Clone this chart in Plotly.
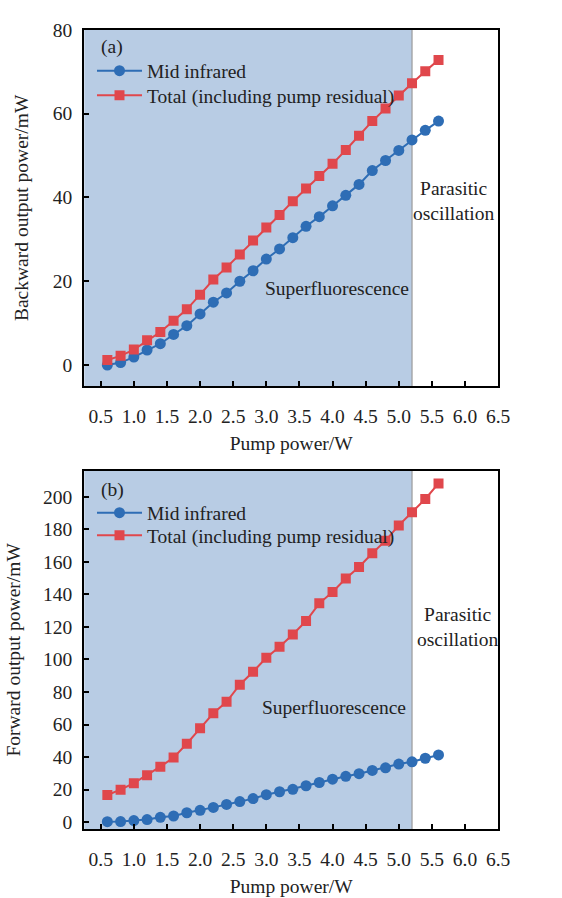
import plotly.graph_objects as go

pump = [0.6, 0.8, 1.0, 1.2, 1.4, 1.6, 1.8, 2.0, 2.2, 2.4, 2.6, 2.8, 3.0,
        3.2, 3.4, 3.6, 3.8, 4.0, 4.2, 4.4, 4.6, 4.8, 5.0, 5.2, 5.4, 5.6]

back_mir = [0.0, 0.6, 1.9, 3.6, 5.1, 7.3, 9.4, 12.2, 15.0, 17.2, 20.0, 22.5, 25.3,
            27.7, 30.4, 33.1, 35.4, 38.0, 40.5, 43.1, 46.4, 48.8, 51.2, 53.7, 56.0, 58.2]
back_total = [1.2, 2.2, 3.7, 5.9, 7.9, 10.6, 13.3, 16.8, 20.4, 23.3, 26.4, 29.7, 32.8,
              35.8, 39.1, 42.1, 45.1, 48.0, 51.3, 54.7, 58.2, 61.2, 64.3, 67.2, 70.1, 72.8]

fwd_mir = [0.3, 0.4, 1.0, 1.6, 3.0, 3.8, 5.8, 7.3, 9.1, 10.9, 12.7, 14.5, 16.9,
           18.7, 20.2, 22.4, 24.4, 26.4, 28.2, 29.8, 31.8, 33.4, 35.7, 37.1, 39.3, 41.3]
fwd_total = [16.7, 20.0, 24.0, 28.8, 34.1, 39.7, 48.2, 57.7, 66.9, 74.0, 84.5, 92.5, 101.0,
             107.8, 115.3, 123.6, 134.5, 141.5, 149.8, 156.8, 165.3, 173.0, 182.4, 190.5, 198.6, 208.2]

x_ticks = [0.5, 1.0, 1.5, 2.0, 2.5, 3.0, 3.5, 4.0, 4.5, 5.0, 5.5, 6.0, 6.5]
x_tick_labels = ["0.5", "1.0", "1.5", "2.0", "2.5", "3.0", "3.5", "4.0", "4.5", "5.0", "5.5", "6.0", "6.5"]
threshold = 5.2

BLUE = "#2e6db5"
RED = "#e0474c"
SHADE = "#b8cce4"
FONT = "Liberation Serif"
FS = 19.5
TXT = "#222"

fig = go.Figure()

# top panel
fig.add_trace(go.Scatter(x=pump, y=back_mir, name="Mid infrared", mode="lines+markers",
                         line=dict(color=BLUE, width=2), marker=dict(symbol="circle", size=11, color=BLUE),
                         xaxis="x", yaxis="y", legend="legend"))
fig.add_trace(go.Scatter(x=pump, y=back_total, name="Total (including pump residual)", mode="lines+markers",
                         line=dict(color=RED, width=2), marker=dict(symbol="square", size=10, color=RED),
                         xaxis="x", yaxis="y", legend="legend2"))
# bottom panel
fig.add_trace(go.Scatter(x=pump, y=fwd_mir, name="Mid infrared", mode="lines+markers",
                         line=dict(color=BLUE, width=2), marker=dict(symbol="circle", size=11, color=BLUE),
                         xaxis="x2", yaxis="y2", legend="legend3"))
fig.add_trace(go.Scatter(x=pump, y=fwd_total, name="Total (including pump residual)", mode="lines+markers",
                         line=dict(color=RED, width=2), marker=dict(symbol="square", size=10, color=RED),
                         xaxis="x2", yaxis="y2", legend="legend4"))

W, H = 562, 898
xdom = [86 / W, 509 / W]
ydom_top = [1 - 382 / H, 1 - 20 / H]
ydom_bot = [1 - 832 / H, 1 - 468 / H]

axis_common = dict(showline=True, mirror=True, linecolor="black", linewidth=2,
                   ticks="inside", ticklen=5, tickwidth=1.5, tickcolor="black",
                   showgrid=False, zeroline=False,
                   tickfont=dict(family=FONT, size=FS, color=TXT))

xaxis_common = dict(axis_common, range=[0.25, 6.5], tickvals=x_ticks, ticktext=x_tick_labels,
                    ticklabelstandoff=12,
                    title=dict(text="Pump power/W", font=dict(family=FONT, size=FS, color=TXT), standoff=10))


def leg(ypix):
    return dict(x=94 / W, y=1 - ypix / H, xanchor="left", yanchor="middle", bgcolor="rgba(0,0,0,0)",
                font=dict(family=FONT, size=FS, color=TXT), itemwidth=45)


fig.update_layout(
    width=W, height=H, autosize=False,
    margin=dict(l=0, r=0, t=0, b=0),
    paper_bgcolor="white", plot_bgcolor="white",
    font=dict(family=FONT, size=FS, color=TXT),
    xaxis=dict(xaxis_common, domain=xdom, anchor="y"),
    yaxis=dict(axis_common, domain=ydom_top, anchor="x", range=[-5, 80], tickvals=[0, 20, 40, 60, 80],
               ticklabelstandoff=6,
               title=dict(text="Backward output power/mW", font=dict(family=FONT, size=FS, color=TXT), standoff=19)),
    xaxis2=dict(xaxis_common, domain=xdom, anchor="y2"),
    yaxis2=dict(axis_common, domain=ydom_bot, anchor="x2", range=[-4.2, 216],
                tickvals=[0, 20, 40, 60, 80, 100, 120, 140, 160, 180, 200],
                ticklabelstandoff=6,
                title=dict(text="Forward output power/mW", font=dict(family=FONT, size=FS, color=TXT), standoff=17)),
    legend=leg(62),
    legend2=leg(87),
    legend3=leg(511),
    legend4=leg(534),
    showlegend=True,
)

for xr, yr in (("x", "y"), ("x2", "y2")):
    fig.add_shape(type="rect", xref=xr, yref=yr + " domain", x0=0.25, x1=threshold, y0=0, y1=1,
                  fillcolor=SHADE, line=dict(width=0), layer="below")
    fig.add_shape(type="line", xref=xr, yref=yr + " domain", x0=threshold, x1=threshold, y0=0, y1=1,
                  line=dict(color="#9a9a9a", width=1.2), layer="below")

ann_font = dict(family=FONT, size=FS, color=TXT)
fig.add_annotation(x=0.47, y=75.8, xref="x", yref="y", text="(a)", showarrow=False, xanchor="left", font=ann_font)
fig.add_annotation(x=4.06, y=18.2, xref="x", yref="y", text="Superfluorescence", showarrow=False, font=ann_font)
fig.add_annotation(x=5.83, y=39.2, xref="x", yref="y", text="Parasitic<br>oscillation", showarrow=False, font=ann_font)

fig.add_annotation(x=0.47, y=204.4, xref="x2", yref="y2", text="(b)", showarrow=False, xanchor="left", font=ann_font)
fig.add_annotation(x=4.02, y=70.2, xref="x2", yref="y2", text="Superfluorescence", showarrow=False, font=ann_font)
fig.add_annotation(x=5.88, y=120.0, xref="x2", yref="y2", text="Parasitic<br>oscillation", showarrow=False, font=ann_font)

fig.write_html("out.html", config={"displayModeBar": False},
               post_script="document.body.style.margin='0';document.body.style.overflow='hidden';")
